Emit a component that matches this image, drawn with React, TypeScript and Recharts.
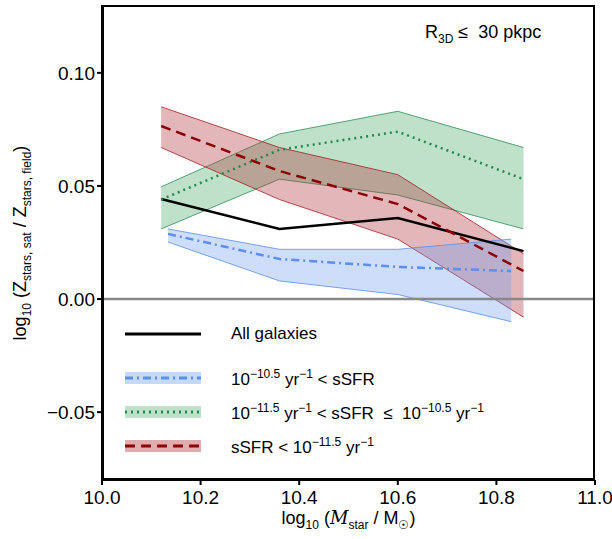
import React from "react";
import { ComposedChart, Area, Line, XAxis, YAxis, ReferenceLine } from "recharts";

const massAll = [10.12, 10.36, 10.6, 10.855];
const massBlue = [10.134, 10.36, 10.6, 10.83];
const allLine = [0.0442, 0.031, 0.0358, 0.0212];
const blueLine = [0.0288, 0.0177, 0.0142, 0.0124];
const blueLo = [0.0252, 0.008, 0.002, -0.01];
const blueHi = [0.031, 0.022, 0.022, 0.0265];
const greenLine = [0.044, 0.066, 0.074, 0.053];
const greenLo = [0.031, 0.053, 0.046, 0.031];
const greenHi = [0.0496, 0.073, 0.083, 0.067];
const redLine = [0.0765, 0.0566, 0.042, 0.0124];
const redLo = [0.067, 0.044, 0.0265, -0.008];
const redHi = [0.085, 0.067, 0.055, 0.02];
const xTicks = [10.0, 10.2, 10.4, 10.6, 10.8, 11.0];
const yTicks = [-0.05, 0.0, 0.05, 0.1];

const mk = (xs: number[], line: number[], lo?: number[], hi?: number[]) =>
  xs.map((x, i) => ({ x, y: line[i], band: lo && hi ? [lo[i], hi[i]] : undefined }));

const allData = mk(massAll, allLine);
const blueData = mk(massBlue, blueLine, blueLo, blueHi);
const greenData = mk(massAll, greenLine, greenLo, greenHi);
const redData = mk(massAll, redLine, redLo, redHi);

const FONT = "'Liberation Sans', Arial, sans-serif";
const SUP = { fontSize: 12 };

const LegendRow = ({ top, color, fill, dash, children }: any) => (
  <div style={{ position: "absolute", left: 125, top: top - 12, height: 24, display: "flex", alignItems: "center" }}>
    <svg width={76} height={16} style={{ marginRight: 30 }}>
      {fill && <rect x={0} y={2} width={76} height={12} fill={fill} fillOpacity={0.4} />}
      <line x1={0} x2={76} y1={8} y2={8} stroke={color} strokeWidth={3} strokeDasharray={dash} />
    </svg>
    <span>{children}</span>
  </div>
);

export default function App() {
  return (
    <div style={{ position: "fixed", left: 0, top: 0, width: 612, height: 539, background: "#fff", fontFamily: FONT, fontSize: 17 }}>
      <ComposedChart width={612} height={539} margin={{ top: 5, right: 17, left: 0, bottom: 0 }}>
        <XAxis
          type="number"
          dataKey="x"
          domain={[10.0, 11.0]}
          ticks={xTicks}
          tickFormatter={(v: number) => v.toFixed(1)}
          height={59}
          tick={{ fill: "#000", fontSize: 19, fontFamily: FONT }}
          stroke="#000"
          strokeWidth={2}
          tickSize={5}
          tickMargin={6}
          allowDataOverflow
        />
        <YAxis
          type="number"
          domain={[-0.08, 0.13]}
          ticks={yTicks}
          tickFormatter={(v: number) => (v < 0 ? "\u2212" + Math.abs(v).toFixed(2) : v.toFixed(2))}
          width={102}
          tick={{ fill: "#000", fontSize: 19, fontFamily: FONT }}
          stroke="#000"
          strokeWidth={2}
          tickSize={5}
          tickMargin={2}
          allowDataOverflow
        />
        <ReferenceLine y={0} stroke="#888" strokeWidth={2.5} />
        <Area data={greenData} dataKey="band" type="linear" fill="#5fb37a" fillOpacity={0.4} stroke="#2e8b57" strokeWidth={0.8} isAnimationActive={false} />
        <Area data={redData} dataKey="band" type="linear" fill="#b0323a" fillOpacity={0.35} stroke="#a02020" strokeWidth={0.8} isAnimationActive={false} />
        <Area data={blueData} dataKey="band" type="linear" fill="#6f9ff0" fillOpacity={0.35} stroke="#5a8ee8" strokeWidth={0.8} isAnimationActive={false} />
        <Line data={allData} dataKey="y" type="linear" stroke="#000" strokeWidth={2.5} dot={false} isAnimationActive={false} />
        <Line data={blueData} dataKey="y" type="linear" stroke="#5b8ff0" strokeWidth={2.5} strokeDasharray="8 4 2 4" dot={false} isAnimationActive={false} />
        <Line data={greenData} dataKey="y" type="linear" stroke="#1f8a4c" strokeWidth={2.5} strokeDasharray="2 4" dot={false} isAnimationActive={false} />
        <Line data={redData} dataKey="y" type="linear" stroke="#8b0000" strokeWidth={2.5} strokeDasharray="10 6" dot={false} isAnimationActive={false} />
      </ComposedChart>
      <div style={{ position: "absolute", left: 102, top: 5, width: 493, height: 475, border: "2px solid #000", boxSizing: "border-box", pointerEvents: "none" }} />
      <div style={{ position: "absolute", left: 425, top: 22, fontSize: 18 }}>
        R<sub style={SUP}>3D</sub> ≤ &nbsp;30 pkpc
      </div>
      <LegendRow top={334} color="#000">All galaxies</LegendRow>
      <LegendRow top={378} color="#5b8ff0" fill="#6f9ff0" dash="8 4 2 4">
        10<sup style={SUP}>−10.5</sup> yr<sup style={SUP}>−1</sup> &lt; sSFR
      </LegendRow>
      <LegendRow top={412} color="#1f8a4c" fill="#5fb37a" dash="2 4">
        10<sup style={SUP}>−11.5</sup> yr<sup style={SUP}>−1</sup> &lt; sSFR &nbsp;≤ &nbsp;10<sup style={SUP}>−10.5</sup> yr<sup style={SUP}>−1</sup>
      </LegendRow>
      <LegendRow top={446} color="#8b0000" fill="#b0323a" dash="10 6">
        sSFR &lt; 10<sup style={SUP}>−11.5</sup> yr<sup style={SUP}>−1</sup>
      </LegendRow>
      <div style={{ position: "absolute", left: 102, top: 507, width: 493, textAlign: "center", fontSize: 18 }}>
        log<sub style={SUP}>10</sub> (<i style={{ fontFamily: "'DejaVu Serif', serif" }}>M</i><sub style={SUP}>star</sub> / M<sub style={SUP}>☉</sub>)
      </div>
      <div style={{ position: "absolute", left: 22 - 200, top: 243 - 12, width: 400, height: 24, textAlign: "center", transform: "rotate(-90deg)", whiteSpace: "nowrap", fontSize: 18 }}>
        log<sub style={SUP}>10</sub> (Z<sub style={SUP}>stars, sat</sub> / Z<sub style={SUP}>stars, field</sub>)
      </div>
    </div>
  );
}
